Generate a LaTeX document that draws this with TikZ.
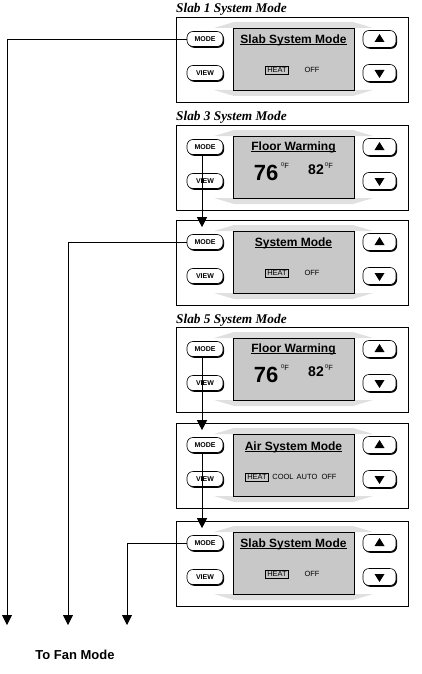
\documentclass[tikz,border=0pt]{standalone}
\usepackage{fontspec}
\setmainfont{Liberation Serif}
\setsansfont{Liberation Sans}
\usetikzlibrary{arrows.meta,shadows}

\definecolor{lcd}{RGB}{200,200,200}
\definecolor{bezel}{RGB}{224,224,224}

\newcommand{\ulin}[1]{{\setbox0\hbox{#1}\rlap{\rule[-1.6pt]{\wd0}{0.8pt}}\box0}}

\tikzset{
  panel/.style={draw, line width=0.7},
  screen/.style={draw, line width=0.7, fill=lcd},
  btn/.style={draw, line width=0.6, fill=white, rounded corners=6, inner sep=0,
    minimum width=36, minimum height=15,
    drop shadow={shadow xshift=1.1pt, shadow yshift=-1.3pt, fill=black, opacity=1},
    font=\sffamily\bfseries\fontsize{7}{7}\selectfont},
  arrowbtn/.style={btn, minimum width=33, minimum height=17},
  heading/.style={font=\rmfamily\bfseries\itshape\fontsize{13.3}{13.3}\selectfont, anchor=base west, inner sep=0},
  lcdtitle/.style={font=\sffamily\bfseries\fontsize{12}{12}\selectfont, inner sep=0},
  opt/.style={font=\sffamily\fontsize{7.5}{7.5}\selectfont, inner sep=1.5},
  sel/.style={opt, draw, line width=0.6},
  flow/.style={line width=0.8, -{Triangle[length=10pt,width=10pt]}},
}

\newcommand{\thermo}[4]{%
  \begin{scope}[shift={(0,#2)}]
    \node[heading] (head#1) at (176,-4) {#3};
    \draw[panel] (176,0) rectangle (408,85);
    \fill[bezel] (214,11) -- (234,5) -- (353,5) -- (373,11) -- cycle;
    \fill[bezel] (214,73) -- (234,79) -- (353,79) -- (373,73) -- cycle;
    \draw[screen] (233,11) rectangle (354,73);
    \node[btn] (mode#1) at (205,22) {MODE};
    \node[btn] (view#1) at (205,56) {VIEW};
    \node[arrowbtn] (up#1) at (379.5,22) {};
    \node[arrowbtn] (down#1) at (379.5,56) {};
    \fill ([shift={(-5,3)}]up#1.center) -- ++(10,0) -- ++(-5,-8) -- cycle;
    \fill ([shift={(-5,-3)}]down#1.center) -- ++(10,0) -- ++(-5,8) -- cycle;
    #4
  \end{scope}
}

\newcommand{\slabscreen}[1]{%
  \node[lcdtitle] at (293.5,23) {\ulin{#1}};
  \node[sel] at (277,53) {HEAT};
  \node[opt] at (312,53) {OFF};
}

\newcommand{\floorscreen}{%
  \node[lcdtitle] at (293.5,22) {\ulin{Floor Warming}};
  \node[font=\sffamily\bfseries\fontsize{22}{22}\selectfont, inner sep=0] (big) at (266,48) {76};
  \node[font=\sffamily\fontsize{7.5}{7.5}\selectfont, inner sep=0, anchor=west] at (281,41) {\raisebox{2pt}{\fontsize{5.5}{5.5}\selectfont 0}F};
  \node[font=\sffamily\bfseries\fontsize{14}{14}\selectfont, inner sep=0] (small) at (316,45) {82};
  \node[font=\sffamily\fontsize{7.5}{7.5}\selectfont, inner sep=0, anchor=west] at (325,41) {\raisebox{2pt}{\fontsize{5.5}{5.5}\selectfont 0}F};
}

\begin{document}
\begin{tikzpicture}[x=1pt, y=-1pt]
  \useasboundingbox (0,0) rectangle (421,674);

  \thermo{1}{17}{Slab 1 System Mode}{\slabscreen{Slab System Mode}}
  \thermo{2}{125}{Slab 3 System Mode}{\floorscreen}
  \thermo{3}{220}{}{\slabscreen{System Mode}}
  \thermo{4}{327}{Slab 5 System Mode}{\floorscreen}
  \thermo{5}{423}{}{%
    \node[lcdtitle] at (293.5,24) {\ulin{Air System Mode}};
    \node[sel] at (257,54) {HEAT};
    \node[opt] at (283,54) {COOL};
    \node[opt] at (307,54) {AUTO};
    \node[opt] at (329,54) {OFF};
  }
  \thermo{6}{521}{}{\slabscreen{Slab System Mode}}

  \coordinate (fan1) at (7,625);
  \coordinate (fan2) at (68,625);
  \coordinate (fan3) at (127,625);
  \draw[flow] (mode1.west) -| (fan1);
  \draw[flow] (mode3.west) -| (fan2);
  \draw[flow] (mode6.west) -| (fan3);

  \draw[flow] ([xshift=-3pt]mode2.south) -- ([xshift=-3pt,yshift=7pt]mode3.north);
  \draw[flow] ([xshift=-3pt]mode4.south) -- ([xshift=-3pt,yshift=7pt]mode5.north);
  \draw[flow] ([xshift=-3pt]mode5.south) -- ([xshift=-3pt,yshift=7pt]mode6.north);

  \node[font=\sffamily\bfseries\fontsize{13}{13}\selectfont] (fan) at (75,655) {To Fan Mode};
\end{tikzpicture}
\end{document}
